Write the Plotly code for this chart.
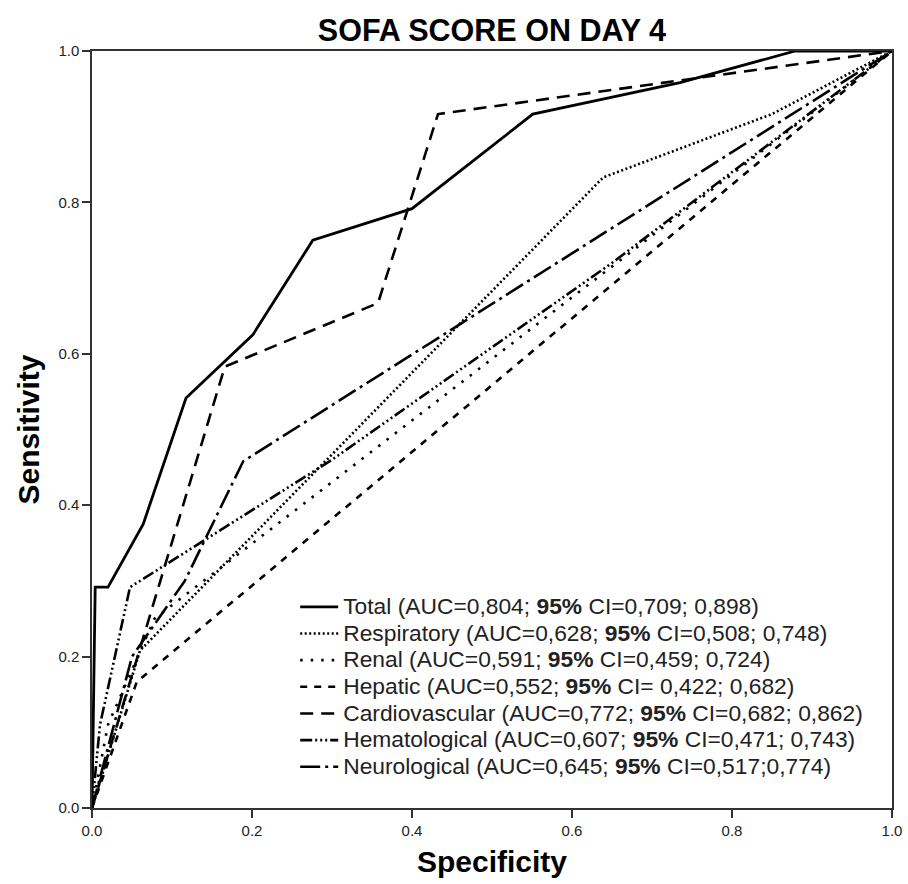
import plotly.graph_objects as go

# ROC curves (x = 1 - specificity as plotted, y = sensitivity)
total_x = [0, 0.004, 0.02, 0.064, 0.1175, 0.201, 0.276, 0.40, 0.551, 0.735, 0.879, 1.0]
total_y = [0, 0.2917, 0.2917, 0.375, 0.5417, 0.625, 0.75, 0.7917, 0.9167, 0.9583, 1.0, 1.0]

resp_x = [0, 0.02, 0.06, 0.639, 0.85, 1.0]
resp_y = [0, 0.07, 0.208, 0.833, 0.9167, 1.0]

renal_x = [0, 0.02, 0.078, 1.0]
renal_y = [0, 0.11, 0.25, 1.0]

hepatic_x = [0, 0.056, 1.0]
hepatic_y = [0, 0.1667, 1.0]

cardio_x = [0, 0.166, 0.3575, 0.4325, 1.0]
cardio_y = [0, 0.583, 0.667, 0.9167, 1.0]

hemato_x = [0, 0.01, 0.0475, 0.30, 0.65, 1.0]
hemato_y = [0, 0.11, 0.2917, 0.46, 0.72, 1.0]

neuro_x = [0, 0.05, 0.116, 0.189, 1.0]
neuro_y = [0, 0.2, 0.30, 0.458, 1.0]

labels = [
    "Total (AUC=0,804; <b>95%</b> CI=0,709; 0,898)",
    "Respiratory (AUC=0,628; <b>95%</b> CI=0,508; 0,748)",
    "Renal (AUC=0,591; <b>95%</b> CI=0,459; 0,724)",
    "Hepatic (AUC=0,552; <b>95%</b> CI= 0,422; 0,682)",
    "Cardiovascular (AUC=0,772; <b>95%</b> CI=0,682; 0,862)",
    "Hematological (AUC=0,607; <b>95%</b> CI=0,471; 0,743)",
    "Neurological (AUC=0,645; <b>95%</b> CI=0,517;0,774)",
]
series = [
    (total_x, total_y),
    (resp_x, resp_y),
    (renal_x, renal_y),
    (hepatic_x, hepatic_y),
    (cardio_x, cardio_y),
    (hemato_x, hemato_y),
    (neuro_x, neuro_y),
]
dashes = [
    "solid",
    "2px,2.5px",
    "2.5px,8px",
    "7px,7px",
    "13px,8px",
    "12px,3px,2px,3px,2px,3px,2px,3px",
    "20px,5px,3px,5px",
]
widths = [2.8, 2.6, 2.6, 2.6, 2.6, 2.6, 2.6]

tick_vals = [0.0, 0.2, 0.4, 0.6, 0.8, 1.0]
tick_text = ["0.0", "0.2", "0.4", "0.6", "0.8", "1.0"]

fig = go.Figure()
for i, ((xs, ys), nm) in enumerate(zip(series, labels)):
    fig.add_trace(go.Scatter(
        x=xs, y=ys, mode="lines",
        name=f'<span style="font-size:22.8px">{nm}</span>',
        legendgroup=f"g{i}",
        line=dict(color="black", width=widths[i], dash=dashes[i]),
    ))

sans = "Liberation Sans, Arial, sans-serif"
fig.update_layout(
    width=908, height=884,
    margin=dict(l=92, r=16, t=51, b=76),
    paper_bgcolor="white", plot_bgcolor="white",
    title=dict(text="<b>SOFA SCORE ON DAY 4</b>", x=0.5417, xanchor="center",
               y=0.966, yanchor="middle",
               font=dict(family=sans, size=30.5, color="black")),
    xaxis=dict(range=[0, 1], tickvals=tick_vals, ticktext=tick_text,
               showgrid=False, zeroline=False, showline=True, mirror=True,
               linecolor="#333", linewidth=1.5, ticks="outside", ticklen=8,
               tickcolor="#333", tickwidth=1.5, automargin=False,
               tickfont=dict(family=sans, size=15, color="#222"),
               title=dict(text="<b>Specificity</b>", standoff=13,
                          font=dict(family=sans, size=30, color="black"))),
    yaxis=dict(range=[0, 1], tickvals=tick_vals, ticktext=tick_text,
               showgrid=False, zeroline=False, showline=True, mirror=True,
               linecolor="#333", linewidth=1.5, ticks="outside", ticklen=8,
               tickcolor="#333", tickwidth=1.5, automargin=False,
               tickfont=dict(family=sans, size=15, color="#222"),
               title=dict(text="<b>Sensitivity</b>", standoff=10,
                          font=dict(family=sans, size=30, color="black"))),
    legend=dict(x=0.254, y=0.29, xanchor="left", yanchor="top",
                bgcolor="rgba(0,0,0,0)", borderwidth=0,
                font=dict(family=sans, size=18.2, color="#222"),
                tracegroupgap=0, itemwidth=38),
    showlegend=True,
)

fig.write_html("out.html")
